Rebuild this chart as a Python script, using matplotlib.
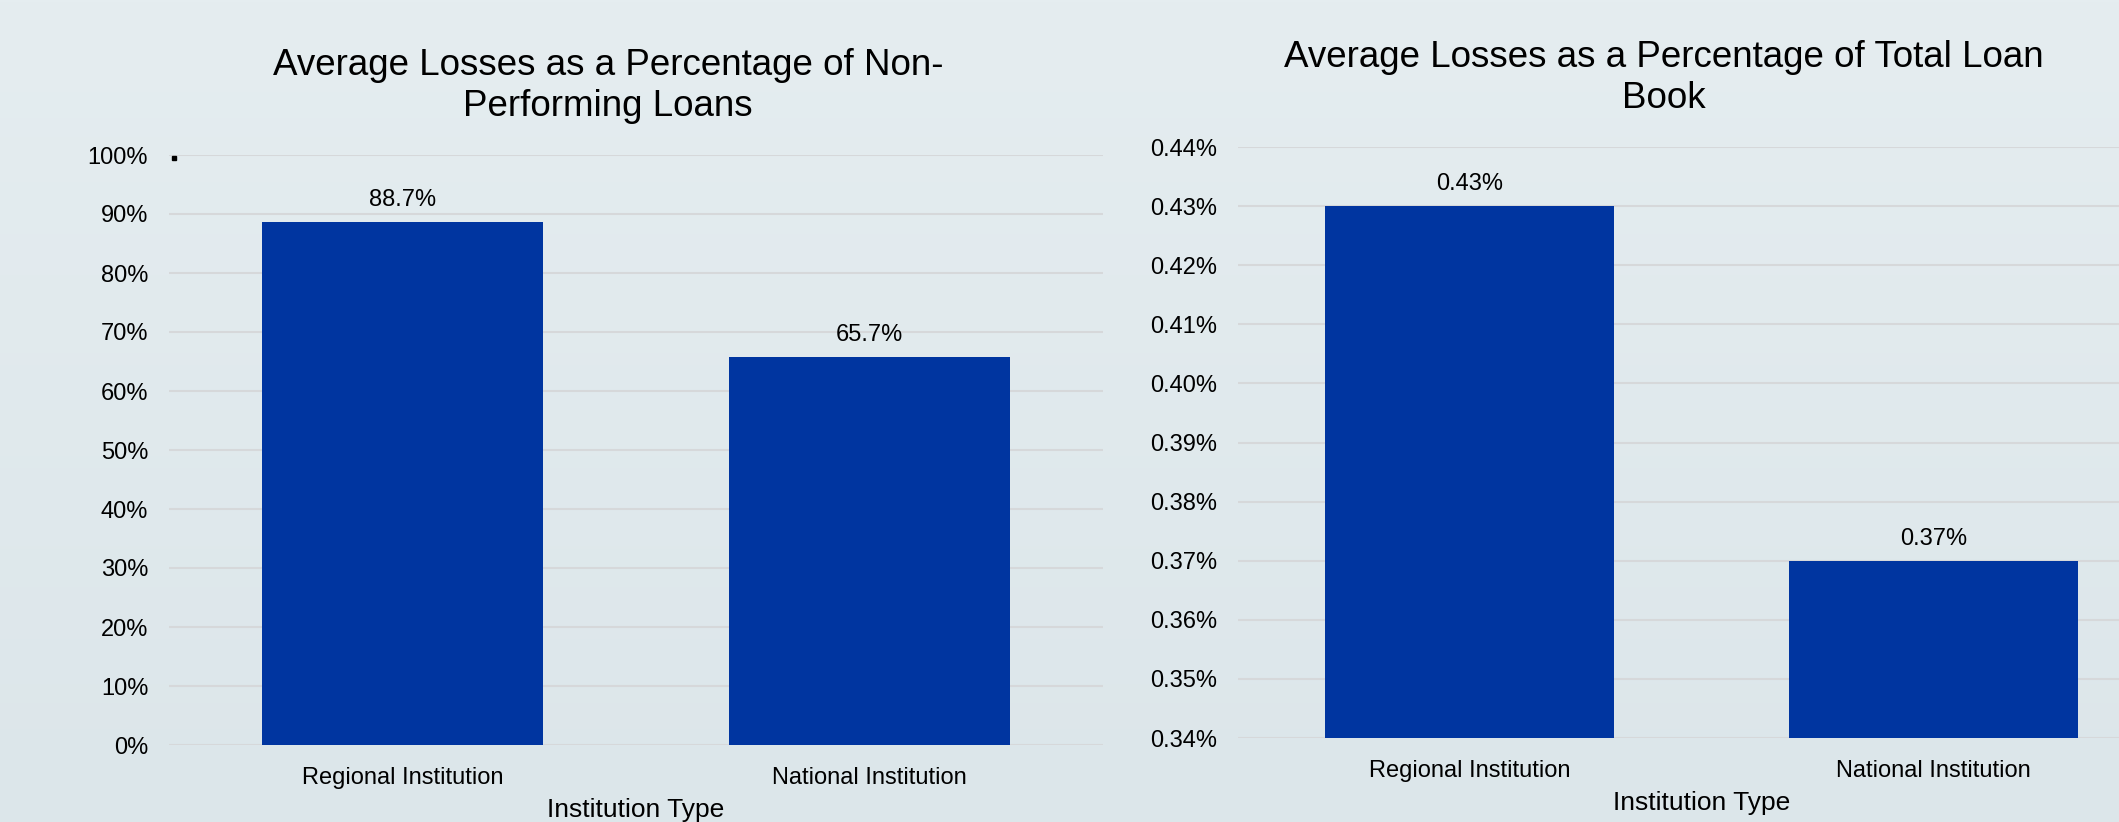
import numpy as np
import matplotlib
matplotlib.use("Agg")
import matplotlib.pyplot as plt
from matplotlib.ticker import FuncFormatter


categories = ["Regional Institution", "National Institution"]
npl_loss_pct = [88.7, 65.7]
book_loss_pct = [0.43, 0.37]
npl_ticks = [0, 10, 20, 30, 40, 50, 60, 70, 80, 90, 100]
book_ticks = [0.34, 0.35, 0.36, 0.37, 0.38, 0.39, 0.40, 0.41, 0.42, 0.43, 0.44]

BAR_COLOR = "#0035A0"
GRID_COLOR = "#d6d8da"

plt.rcParams["font.family"] = ["Liberation Sans", "DejaVu Sans"]

W, H = 2119, 822
fig = plt.figure(figsize=(W / 100, H / 100), dpi=100)

# soft vertical gradient background
bg = fig.add_axes([0, 0, 1, 1], zorder=-10)
grad = np.linspace(0, 1, 256).reshape(-1, 1)
top = np.array([0xe5, 0xed, 0xf0]) / 255
bottom = np.array([0xdc, 0xe6, 0xea]) / 255
img = top + (bottom - top) * grad[:, :, None]
bg.imshow(img, aspect="auto", extent=[0, 1, 0, 1])
bg.axis("off")


def style_axes(ax, ticks, fmt):
    ax.set_facecolor("none")
    for s in ax.spines.values():
        s.set_visible(False)
    ax.set_yticks(ticks)
    ax.yaxis.set_major_formatter(FuncFormatter(fmt))
    ax.grid(axis="y", color=GRID_COLOR, lw=1.5)
    ax.set_axisbelow(True)
    ax.tick_params(axis="both", length=0, labelsize=17, colors="black")
    ax.tick_params(axis="y", pad=15)
    ax.tick_params(axis="x", pad=16)


x = np.arange(len(categories))

# left panel
ax1 = fig.add_axes([169 / W, 77 / H, 934 / W, 590 / H])
bars = ax1.bar(x, npl_loss_pct, width=0.6, color=BAR_COLOR, zorder=2)
ax1.set_xlim(-0.5, 1.5)
ax1.set_ylim(0, 100)
style_axes(ax1, npl_ticks, lambda v, p: f"{v:.0f}%")
ax1.set_xticks(x)
ax1.set_xticklabels(categories)
ax1.set_xlabel("Institution Type", fontsize=19, labelpad=6)
for b, v in zip(bars, npl_loss_pct):
    ax1.annotate(f"{v:.1f}%", (b.get_x() + b.get_width() / 2, v),
                 xytext=(0, 8), textcoords="offset points",
                 ha="center", va="bottom", fontsize=17)
ax1.plot([-0.49], [99.5], marker="s", ms=3.5, color="black", clip_on=False, zorder=3)
fig.text(608 / W, 1 - 86 / H, "Average Losses as a Percentage of Non-\nPerforming Loans",
         ha="center", va="center", fontsize=26.5, linespacing=1.2)

# right panel (runs past the right edge of the figure)
ax2 = fig.add_axes([1238 / W, 84 / H, 927 / W, 591 / H])
bars = ax2.bar(x, book_loss_pct, width=0.624, color=BAR_COLOR, zorder=2)
ax2.set_xlim(-0.5, 1.5)
ax2.set_ylim(0.34, 0.44)
style_axes(ax2, book_ticks, lambda v, p: f"{v:.2f}%")
ax2.set_xticks(x)
ax2.set_xticklabels(categories)
ax2.set_xlabel("Institution Type", fontsize=19, labelpad=6)
for b, v in zip(bars, book_loss_pct):
    ax2.annotate(f"{v:.2f}%", (b.get_x() + b.get_width() / 2, v),
                 xytext=(0, 8), textcoords="offset points",
                 ha="center", va="bottom", fontsize=17)
fig.text(1664 / W, 1 - 78 / H, "Average Losses as a Percentage of Total Loan\nBook",
         ha="center", va="center", fontsize=26.5, linespacing=1.2)

fig.savefig("out.png", dpi=100)
